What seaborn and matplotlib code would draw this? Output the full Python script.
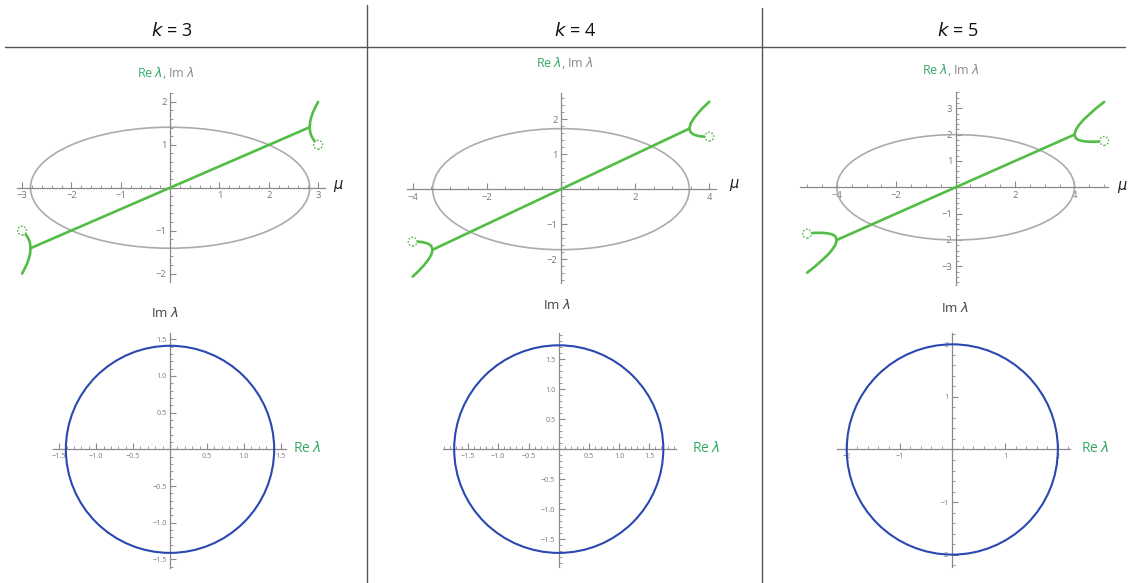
import matplotlib
matplotlib.use("Agg")
import matplotlib.pyplot as plt
from matplotlib.patches import Ellipse
from matplotlib.ticker import MultipleLocator, FuncFormatter
import seaborn as sns

# ---- values -------------------------------------------------------------
K_VALUES = [3, 4, 5]

# gray ellipse (Im lambda vs mu): half extents along mu and along lambda
ELLIPSE_HALF_WIDTH = [2.83, 3.46, 4.00]
ELLIPSE_HALF_HEIGHT = [1.41, 1.73, 2.00]

# blue circle in the complex lambda plane
CIRCLE_RADIUS = [1.41, 1.73, 2.00]

# real branches of Re lambda beyond the branch point (right side; left side is the mirror image)
BRANCH_MU_K3 = [2.83, 2.84, 2.86, 2.90, 2.95, 3.00]
BRANCH_UP_K3 = [1.41, 1.55, 1.64, 1.77, 1.89, 2.00]
BRANCH_LO_K3 = [1.41, 1.29, 1.22, 1.13, 1.06, 1.00]

BRANCH_MU_K4 = [3.46, 3.50, 3.58, 3.70, 3.85, 4.00]
BRANCH_UP_K4 = [1.73, 1.88, 2.02, 2.18, 2.35, 2.50]
BRANCH_LO_K4 = [1.73, 1.62, 1.56, 1.52, 1.50, 1.50]

BRANCH_MU_K5 = [4.00, 4.05, 4.15, 4.30, 4.50, 4.75, 5.00]
BRANCH_UP_K5 = [2.00, 2.19, 2.36, 2.56, 2.77, 3.02, 3.24]
BRANCH_LO_K5 = [2.00, 1.86, 1.79, 1.75, 1.73, 1.73, 1.76]

BRANCH_MU = [BRANCH_MU_K3, BRANCH_MU_K4, BRANCH_MU_K5]
BRANCH_UP = [BRANCH_UP_K3, BRANCH_UP_K4, BRANCH_UP_K5]
BRANCH_LO = [BRANCH_LO_K3, BRANCH_LO_K4, BRANCH_LO_K5]

# ---- styling / layout ---------------------------------------------------
W, H = 1128, 583
GREEN_LINE = "#52bd45"
GREEN_TEXT = "#35a868"
GRAY_CURVE = "#ababab"
BLUE = "#2a48b0"
AXIS_GRAY = "#8a8a8a"
TICK_TEXT = "#7a7a7a"

sns.set_theme(style="white")
plt.rcParams["font.family"] = ["Open Sans", "DejaVu Sans"]
plt.rcParams["mathtext.fontset"] = "dejavusans"

fig = plt.figure(figsize=(W / 100, H / 100), dpi=100)
fig.patch.set_facecolor("white")

# pixel boxes (left, top, right, bottom) and data limits of each panel
TOP_BOX = [(16.7, 93.3, 325, 281.7), (406.7, 93.3, 716, 283.3), (800, 91.7, 1108.3, 285)]
TOP_XLIM = [(-3.11, 3.14), (-4.16, 4.18), (-5.24, 5.14)]
TOP_YLIM = [(-2.19, 2.20), (-2.69, 2.74), (-3.71, 3.63)]
TOP_XTICK = [(1, 0.2), (2, 0.5), (2, 0.5)]
TOP_YTICK = [(1, 0.2), (1, 0.2), (1, 0.2)]

BOT_BOX = [(53.3, 333.3, 286, 568.3), (442.7, 333.3, 676, 566.7), (836.7, 333.3, 1070, 566.7)]
BOT_LIM = [(-1.58, 1.57, -1.62, 1.58), (-1.92, 1.94, -1.96, 1.93), (-2.19, 2.23, -2.23, 2.21)]
BOT_TICK = [(0.5, 0.1, 1), (0.5, 0.1, 1), (1, 0.2, 0)]


def px_axes(box):
    left, top, right, bottom = box
    return fig.add_axes([left / W, 1 - bottom / H, (right - left) / W, (bottom - top) / H])


def fmt(decimals):
    def f(v, _):
        if abs(v) < 1e-9:
            return ""
        s = f"{abs(v):.{decimals}f}"
        return ("\u2212" + s) if v < 0 else s
    return FuncFormatter(f)


def style_axes(ax, xt, yt, dec, labelsize):
    sns.despine(ax=ax, top=True, right=True)
    for side in ("left", "bottom"):
        ax.spines[side].set_position("zero")
        ax.spines[side].set_color(AXIS_GRAY)
        ax.spines[side].set_linewidth(0.9)
    ax.set_facecolor("none")
    ax.xaxis.set_major_locator(MultipleLocator(xt[0]))
    ax.xaxis.set_minor_locator(MultipleLocator(xt[1]))
    ax.yaxis.set_major_locator(MultipleLocator(yt[0]))
    ax.yaxis.set_minor_locator(MultipleLocator(yt[1]))
    ax.xaxis.set_major_formatter(fmt(dec))
    ax.yaxis.set_major_formatter(fmt(dec))
    ax.tick_params(which="major", direction="in", length=4, width=0.8,
                   color=AXIS_GRAY, labelcolor=TICK_TEXT, labelsize=labelsize, pad=2.5)
    ax.tick_params(which="minor", direction="in", length=2.2, width=0.6, color=AXIS_GRAY)
    ax.tick_params(left=True, bottom=True, which="both")
    ax.grid(False)
    ax.set_xlabel("")
    ax.set_ylabel("")


def ftext(x, y, s, **kw):
    fig.text(x / W, 1 - y / H, s, **kw)


for i, k in enumerate(K_VALUES):
    # ---------------- top panel: Re lambda and Im lambda against mu -------
    ax = px_axes(TOP_BOX[i])
    ax.set_xlim(*TOP_XLIM[i])
    ax.set_ylim(*TOP_YLIM[i])

    ax.add_patch(Ellipse((0, 0), 2 * ELLIPSE_HALF_WIDTH[i], 2 * ELLIPSE_HALF_HEIGHT[i],
                         fill=False, edgecolor=GRAY_CURVE, linewidth=1.2, zorder=2))

    mu0, re0 = BRANCH_MU[i][0], BRANCH_UP[i][0]
    sns.lineplot(x=[-mu0, mu0], y=[-re0, re0], ax=ax, color=GREEN_LINE,
                 linewidth=1.9, sort=False, estimator=None, zorder=3)
    for sign in (1, -1):
        xs = [sign * m for m in BRANCH_MU[i]]
        for ys in (BRANCH_UP[i], BRANCH_LO[i]):
            sns.lineplot(x=xs, y=[sign * v for v in ys], ax=ax, color=GREEN_LINE,
                         linewidth=1.9, sort=False, estimator=None, zorder=3)
        ax.scatter([sign * BRANCH_MU[i][-1]], [sign * BRANCH_LO[i][-1]], s=40,
                   facecolor="white", edgecolor=GREEN_LINE, linewidth=1.0,
                   linestyle=(0, (1.2, 1.2)), zorder=4, clip_on=False)

    style_axes(ax, TOP_XTICK[i], TOP_YTICK[i], 0, 6.8)

    # ---------------- bottom panel: lambda in the complex plane ----------
    bx = px_axes(BOT_BOX[i])
    x0, x1, y0, y1 = BOT_LIM[i]
    bx.set_xlim(x0, x1)
    bx.set_ylim(y0, y1)
    r = CIRCLE_RADIUS[i]
    bx.add_patch(Ellipse((0, 0), 2 * r, 2 * r, fill=False, edgecolor=BLUE,
                         linewidth=1.5, zorder=3))
    major, minor, dec = BOT_TICK[i]
    style_axes(bx, (major, minor), (major, minor), dec, 5.2)

# ---- panel labels ---------------------------------------------------------
HEADER_X = [172, 575, 958]
COMMA_X = [162.3, 560.7, 946.7]
COMMA_Y = [73, 63, 70]
MU_POS = [(333, 186), (729, 185), (1117, 187)]
RE_POS = [(293, 449), (692, 449), (1081, 449)]
IM_POS = [(165, 313), (557, 305), (955, 308)]

for i, k in enumerate(K_VALUES):
    ftext(HEADER_X[i], 31, rf"$k$ = {k}", ha="center", va="center", fontsize=13, color="#111111")
    ftext(COMMA_X[i] + 1, COMMA_Y[i], r"Re $\lambda$", ha="right", va="center",
          fontsize=9, color=GREEN_TEXT)
    ftext(COMMA_X[i], COMMA_Y[i], r", Im $\lambda$", ha="left", va="center",
          fontsize=9, color="#8a8a8a")
    ftext(*MU_POS[i], r"$\mu$", ha="left", va="center", fontsize=10.5, color="#222222")
    ftext(*RE_POS[i], r"Re $\lambda$", ha="left", va="center", fontsize=10, color=GREEN_TEXT)
    ftext(*IM_POS[i], r"Im $\lambda$", ha="center", va="center", fontsize=9.5, color="#444444")

# ---- table rules ----------------------------------------------------------
rule = dict(color="#555555", linewidth=1.0, transform=fig.transFigure, zorder=0)
fig.add_artist(plt.Line2D([5 / W, 1125 / W], [1 - 47 / H, 1 - 47 / H], **rule))
fig.add_artist(plt.Line2D([367 / W, 367 / W], [1 - 5 / H, 0], **rule))
fig.add_artist(plt.Line2D([762 / W, 762 / W], [1 - 8 / H, 0], **rule))

fig.savefig("out.png", dpi=100, facecolor="white")
